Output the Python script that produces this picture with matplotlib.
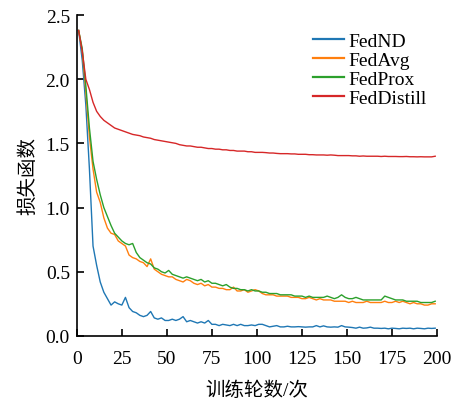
import matplotlib
matplotlib.use('Agg')
import matplotlib.pyplot as plt

epochs = list(range(1, 200, 2))

fednd = [2.38, 2.15, 1.80, 1.30, 0.70, 0.55, 0.42, 0.34, 0.29, 0.24,
         0.265, 0.25, 0.24, 0.30, 0.22, 0.19, 0.18, 0.16, 0.15, 0.16,
         0.19, 0.14, 0.13, 0.14, 0.12, 0.12, 0.13, 0.12, 0.13, 0.15,
         0.11, 0.12, 0.11, 0.10, 0.11, 0.10, 0.12, 0.09, 0.09, 0.08,
         0.09, 0.085, 0.08, 0.09, 0.08, 0.09, 0.08, 0.08, 0.085, 0.08,
         0.09, 0.09, 0.08, 0.07, 0.075, 0.08, 0.07, 0.07, 0.075, 0.07,
         0.07, 0.072, 0.07, 0.068, 0.07, 0.07, 0.08, 0.07, 0.078, 0.07,
         0.068, 0.07, 0.068, 0.08, 0.07, 0.068, 0.065, 0.06, 0.068, 0.06,
         0.062, 0.068, 0.06, 0.06, 0.058, 0.06, 0.055, 0.06, 0.058, 0.055,
         0.06, 0.058, 0.06, 0.055, 0.06, 0.058, 0.055, 0.06, 0.058, 0.06]

fedavg = [2.38, 2.22, 1.90, 1.55, 1.30, 1.12, 1.04, 0.92, 0.84, 0.80,
          0.79, 0.74, 0.72, 0.70, 0.63, 0.61, 0.60, 0.58, 0.57, 0.54,
          0.60, 0.52, 0.50, 0.48, 0.47, 0.46, 0.46, 0.44, 0.43, 0.42,
          0.44, 0.43, 0.41, 0.40, 0.41, 0.39, 0.40, 0.38, 0.38, 0.37,
          0.37, 0.36, 0.36, 0.38, 0.35, 0.35, 0.36, 0.34, 0.35, 0.36,
          0.35, 0.33, 0.32, 0.32, 0.32, 0.31, 0.31, 0.31, 0.31, 0.30,
          0.30, 0.30, 0.29, 0.29, 0.30, 0.29, 0.28, 0.29, 0.28, 0.28,
          0.28, 0.27, 0.27, 0.27, 0.27, 0.26, 0.27, 0.26, 0.26, 0.26,
          0.27, 0.26, 0.26, 0.26, 0.26, 0.27, 0.26, 0.26, 0.27, 0.26,
          0.27, 0.26, 0.25, 0.26, 0.25, 0.25, 0.24, 0.24, 0.25, 0.25]

fedprox = [2.38, 2.24, 1.95, 1.62, 1.36, 1.22, 1.10, 1.00, 0.93, 0.86,
           0.80, 0.77, 0.74, 0.72, 0.71, 0.72, 0.65, 0.61, 0.59, 0.57,
           0.56, 0.53, 0.52, 0.50, 0.49, 0.51, 0.48, 0.47, 0.46, 0.45,
           0.46, 0.45, 0.44, 0.43, 0.44, 0.42, 0.43, 0.41, 0.41, 0.40,
           0.39, 0.40, 0.38, 0.37, 0.37, 0.36, 0.36, 0.35, 0.36, 0.35,
           0.35, 0.34, 0.34, 0.33, 0.33, 0.33, 0.32, 0.32, 0.32, 0.32,
           0.31, 0.31, 0.31, 0.30, 0.31, 0.30, 0.30, 0.30, 0.30, 0.31,
           0.30, 0.29, 0.30, 0.32, 0.30, 0.29, 0.29, 0.30, 0.29, 0.28,
           0.28, 0.28, 0.28, 0.28, 0.28, 0.31, 0.30, 0.29, 0.28, 0.28,
           0.28, 0.27, 0.27, 0.27, 0.27, 0.26, 0.26, 0.26, 0.26, 0.27]

feddistill = [2.38, 2.22, 2.00, 1.92, 1.82, 1.75, 1.71, 1.68, 1.66, 1.64,
              1.62, 1.61, 1.60, 1.59, 1.58, 1.57, 1.565, 1.56, 1.55, 1.545,
              1.54, 1.53, 1.525, 1.52, 1.515, 1.51, 1.505, 1.50, 1.49, 1.485,
              1.48, 1.48, 1.475, 1.47, 1.47, 1.465, 1.46, 1.46, 1.455, 1.455,
              1.45, 1.45, 1.445, 1.445, 1.44, 1.44, 1.44, 1.435, 1.435, 1.43,
              1.43, 1.43, 1.428, 1.425, 1.425, 1.422, 1.42, 1.42, 1.42, 1.418,
              1.418, 1.415, 1.415, 1.415, 1.412, 1.412, 1.41, 1.41, 1.41, 1.408,
              1.41, 1.408, 1.405, 1.405, 1.405, 1.405, 1.403, 1.403, 1.40, 1.402,
              1.40, 1.40, 1.40, 1.40, 1.398, 1.40, 1.398, 1.398, 1.398, 1.397,
              1.397, 1.398, 1.396, 1.396, 1.395, 1.396, 1.395, 1.395, 1.395, 1.40]

series = [('FedND', fednd), ('FedAvg', fedavg), ('FedProx', fedprox), ('FedDistill', feddistill)]

plt.rcParams['font.family'] = ['Liberation Serif', 'Noto Sans CJK SC']
plt.rcParams['font.size'] = 14

fig = plt.figure(figsize=(4.6, 4.02), dpi=100)
ax = fig.add_axes([0.167, 0.162, 0.783, 0.798])

for name, vals in series:
    ax.plot(epochs, vals, linewidth=1.0, label=name)

ax.set_xlim(0, 200)
ax.set_ylim(0, 2.5)
ax.set_xticks([0, 25, 50, 75, 100, 125, 150, 175, 200])
ax.set_yticks([0.0, 0.5, 1.0, 1.5, 2.0, 2.5])
ax.spines['top'].set_visible(False)
ax.spines['right'].set_visible(False)
ax.spines['left'].set_linewidth(1.2)
ax.spines['bottom'].set_linewidth(1.2)
ax.tick_params(direction='in', length=5, width=1.2)
ax.tick_params(axis='x', pad=10)
ax.tick_params(axis='y', pad=5)

ax.set_xlabel('训练轮数/次', labelpad=10)
ax.set_ylabel('损失函数', labelpad=6)

leg = ax.legend(loc='upper right', frameon=False, handlelength=1.6, handletextpad=0.25,
                labelspacing=0.08, borderaxespad=0.3, bbox_to_anchor=(1.01, 0.99))
for line in leg.get_lines():
    line.set_linewidth(1.6)

plt.savefig('out.png', dpi=100)
